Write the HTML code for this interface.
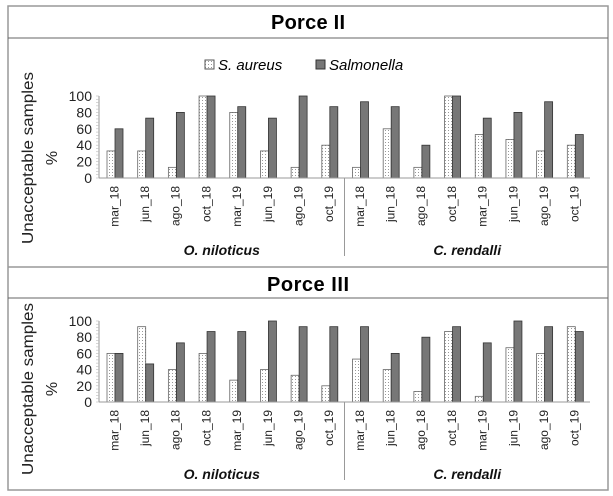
<!DOCTYPE html>
<html><head><meta charset="utf-8"><style>
html,body{margin:0;padding:0;background:#fff;}
svg{display:block;font-family:"Liberation Sans",sans-serif;}
</style></head><body>
<svg id="c" width="613" height="496">
<defs><pattern id="dots" width="3" height="3" patternUnits="userSpaceOnUse"><rect width="3" height="3" fill="#fff"/><rect x="1" y="1" width="1" height="1" fill="#999"/></pattern></defs>
<rect x="8" y="6" width="600" height="484" fill="#fff" stroke="#999" stroke-width="1.5"/>
<line x1="8" y1="38" x2="608" y2="38" stroke="#666"/>
<line x1="8" y1="267" x2="608" y2="267" stroke="#999" stroke-width="1.5"/>
<line x1="8" y1="298" x2="608" y2="298" stroke="#666"/>
<text x="308" y="29" text-anchor="middle" font-size="20" font-weight="bold" textLength="74">Porce II</text>
<text x="308" y="291" text-anchor="middle" font-size="20" font-weight="bold" textLength="82">Porce III</text>
<g>
<rect x="205" y="60" width="9" height="9" fill="url(#dots)" stroke="#555"/>
<text x="218" y="70" font-size="15" font-style="italic">S. aureus</text>
<rect x="316" y="60" width="9" height="9" fill="#777" stroke="#333"/>
<text x="329" y="70" font-size="15" font-style="italic">Salmonella</text>
</g>
<g id="p1"></g><g id="p2"></g>
</svg>
<script>
const categories=["mar_18","jun_18","ago_18","oct_18","mar_19","jun_19","ago_19","oct_19","mar_18","jun_18","ago_18","oct_18","mar_19","jun_19","ago_19","oct_19"];
const groups=["O. niloticus","C. rendalli"];
const yTicks=[0,20,40,60,80,100];
const p2Aureus=[33,33,13,100,80,33,13,40,13,60,13,100,53,47,33,40];
const p2Salmonella=[60,73,80,100,87,73,100,87,93,87,40,100,73,80,93,53];
const p3Aureus=[60,93,40,60,27,40,33,20,53,40,13,87,7,67,60,93];
const p3Salmonella=[60,47,73,87,87,100,93,93,93,60,80,93,73,100,93,87];
const NS="http://www.w3.org/2000/svg";
function mk(parent,tag,attrs,text){const e=document.createElementNS(NS,tag);for(const k in attrs)e.setAttribute(k,attrs[k]);if(text!==undefined)e.textContent=text;parent.appendChild(e);return e;}
function panel(g,y0,y100,aur,sal,pfx,cy){
  const x0=99,x1=590,cw=(x1-x0)/categories.length;
  const ys=v=>y0-(v/100)*(y0-y100);
  const xs=i=>x0+i*cw;
  let ax=mk(g,'line',{x1:x0,y1:y100,x2:x0,y2:y0,stroke:'#999'});
  
  
  for(let v=0;v<=100;v+=4){let t=mk(g,'line',{x1:x0-3,x2:x0,y1:ys(v),y2:ys(v),stroke:'#bbb','stroke-width':0.6});
    
    }
  yTicks.forEach(v=>{let t=mk(g,'text',{x:x0-7,y:ys(v)+5,'text-anchor':'end','font-size':14,fill:'#222'},String(v));
    
    });
  let yt=mk(g,'text',{transform:`translate(33,${cy}) rotate(-90)`,'text-anchor':'middle','font-size':16,fill:'#222',textLength:172,lengthAdjust:'spacingAndGlyphs'},'Unacceptable samples');
  
  
  let yp=mk(g,'text',{transform:`translate(57,${cy}) rotate(-90)`,'text-anchor':'middle','font-size':16,fill:'#222'},'%');
  
  
  categories.forEach((c,i)=>{
    const bx=xs(i)+8;
    let b1=mk(g,'rect',{x:bx,y:ys(aur[i]),width:8,height:y0-ys(aur[i]),fill:'url(#dots)',stroke:'#666','stroke-width':0.8});
    
    
    let b2=mk(g,'rect',{x:bx+8,y:ys(sal[i]),width:8,height:y0-ys(sal[i]),fill:'#777',stroke:'#333','stroke-width':0.8});
    
    
    const cx=xs(i)+cw/2+4;
    let l=mk(g,'text',{transform:`translate(${cx},${y0+8}) rotate(-90)`,'text-anchor':'end','font-size':12,fill:'#222'},c);
    
    
  });
  let xa=mk(g,'line',{x1:x0,y1:y0,x2:x1,y2:y0,stroke:'#999'});
  
  
  const mid=x0+cw*categories.length/2;
  let dv=mk(g,'line',{x1:mid,y1:y0,x2:mid,y2:y0+78,stroke:'#999'});
  
  
  groups.forEach((gn,k)=>{
    let t=mk(g,'text',{x:x0+cw*(4+8*k),y:y0+77,'text-anchor':'middle','font-size':14,'font-weight':'bold','font-style':'italic',fill:'#111'},gn);
    
    
  });
}
panel(document.getElementById('p1'),178,96,p2Aureus,p2Salmonella,'porce-ii',158);
panel(document.getElementById('p2'),402,321,p3Aureus,p3Salmonella,'porce-iii',389);
</script>
</body></html>
